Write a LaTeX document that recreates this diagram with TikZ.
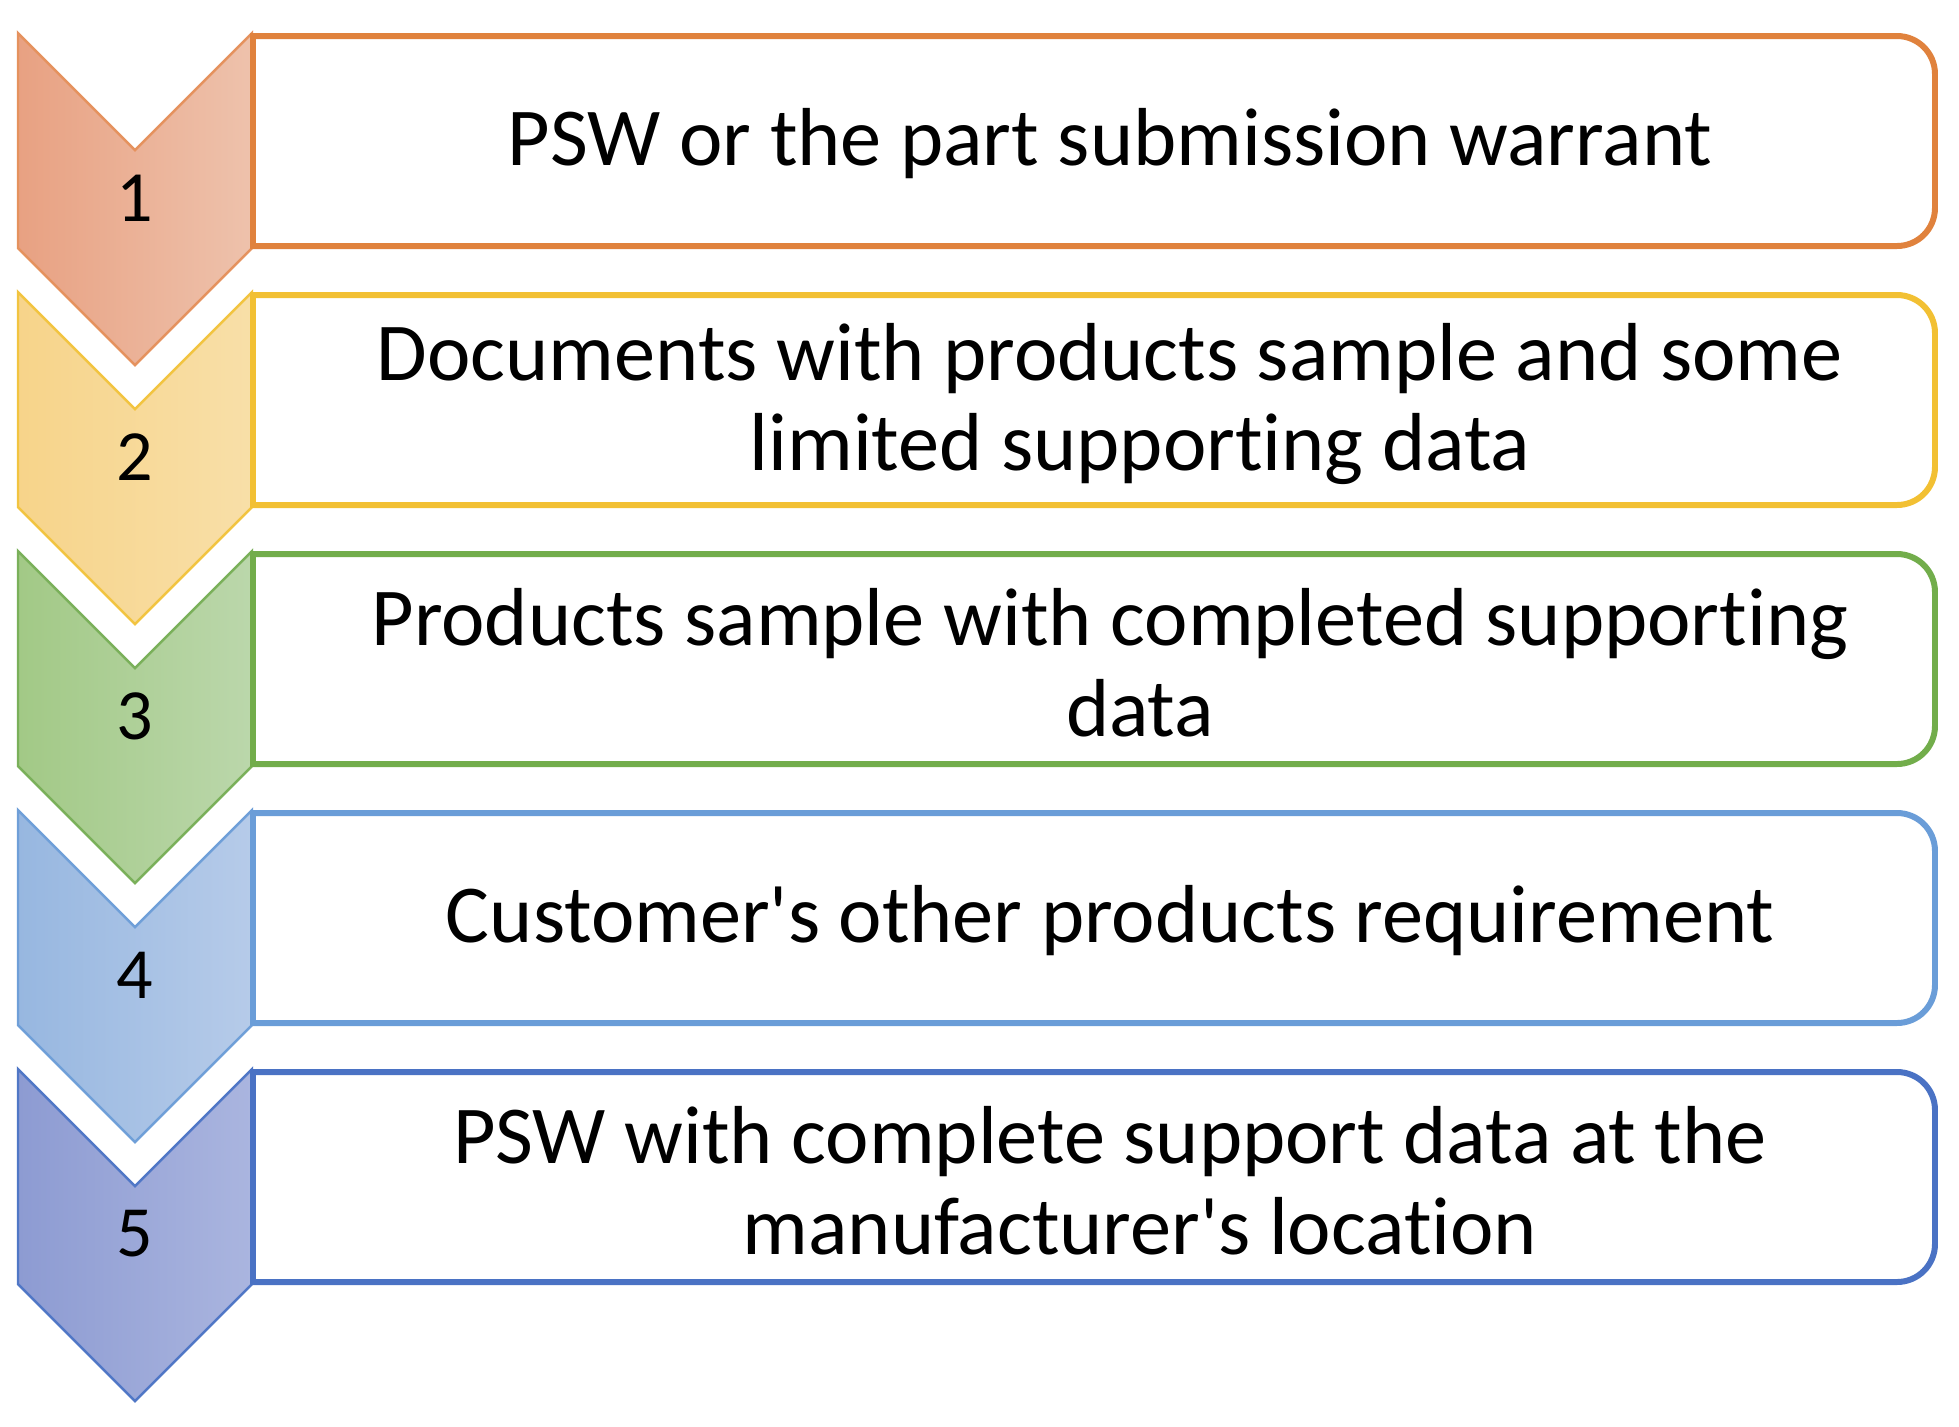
\documentclass[tikz,border=0pt]{standalone}
\usepackage{fontspec}
\setmainfont{Carlito}[Ligatures={NoCommon}]
\usepackage{xcolor}
\usetikzlibrary{positioning}

\definecolor{orgline}{HTML}{E0823D}
\definecolor{orgedge}{HTML}{E5925E}
\definecolor{orgL}{HTML}{E8A182}
\definecolor{orgR}{HTML}{EEC2AC}
\definecolor{ylwline}{HTML}{F2C033}
\definecolor{ylwedge}{HTML}{F2C440}
\definecolor{ylwL}{HTML}{F7D48A}
\definecolor{ylwR}{HTML}{F8DFA8}
\definecolor{grnline}{HTML}{72AD4B}
\definecolor{grnedge}{HTML}{7AB05A}
\definecolor{grnL}{HTML}{A2C986}
\definecolor{grnR}{HTML}{BBD7AB}
\definecolor{bluline}{HTML}{6A9DD8}
\definecolor{bluedge}{HTML}{6F9FD8}
\definecolor{bluL}{HTML}{97B7E0}
\definecolor{bluR}{HTML}{B6CBE9}
\definecolor{indline}{HTML}{4A72C4}
\definecolor{indedge}{HTML}{5077C6}
\definecolor{indL}{HTML}{8D9BD2}
\definecolor{indR}{HTML}{AAB5DF}

\newcommand{\wrapgap}{\hspace*{0.6cm}}

\begin{document}
\begin{tikzpicture}[
    x=0.01cm, y=-0.01cm,
    chev/.style = {
        draw=#1edge,
        line width=0.7pt,
        left color=#1L,
        right color=#1R
    },
    step box/.style = {
        draw=#1line,
        line width=1.7pt,
        fill=white
    },
    step num/.style = {font=\fontsize{20.5}{24}\selectfont, inner sep=0pt},
    step text/.style = {font=\fontsize{23.4}{25.8}\selectfont, align=center, inner sep=0pt}
]

\useasboundingbox (0,0) rectangle (1959,1426);

% chevrons
\draw[chev=org] (18,33) -- (135,150) -- (252,33) -- (252,248) -- (135,365) -- (18,248) -- cycle;
\draw[chev=ylw] (18,292) -- (135,409) -- (252,292) -- (252,507) -- (135,624) -- (18,507) -- cycle;
\draw[chev=grn] (18,551) -- (135,668) -- (252,551) -- (252,766) -- (135,883) -- (18,766) -- cycle;
\draw[chev=blu] (18,810) -- (135,927) -- (252,810) -- (252,1025) -- (135,1142) -- (18,1025) -- cycle;
\draw[chev=ind] (18,1069) -- (135,1186) -- (252,1069) -- (252,1284) -- (135,1401) -- (18,1284) -- cycle;

% boxes, rounded on the right only
\draw[step box=org] (253,246) -- (253,36) -- (1897,36) arc[start angle=-90, end angle=0, radius=38]
    -- (1935,208) arc[start angle=0, end angle=90, radius=38] -- cycle;
\draw[step box=ylw] (253,505) -- (253,295) -- (1897,295) arc[start angle=-90, end angle=0, radius=38]
    -- (1935,467) arc[start angle=0, end angle=90, radius=38] -- cycle;
\draw[step box=grn] (253,764) -- (253,554) -- (1897,554) arc[start angle=-90, end angle=0, radius=38]
    -- (1935,726) arc[start angle=0, end angle=90, radius=38] -- cycle;
\draw[step box=blu] (253,1023) -- (253,813) -- (1897,813) arc[start angle=-90, end angle=0, radius=38]
    -- (1935,985) arc[start angle=0, end angle=90, radius=38] -- cycle;
\draw[step box=ind] (253,1282) -- (253,1072) -- (1897,1072) arc[start angle=-90, end angle=0, radius=38]
    -- (1935,1244) arc[start angle=0, end angle=90, radius=38] -- cycle;

% numbers
\node[step num] (n1) at (135,198) {1};
\node[step num] (n2) at (135,457) {2};
\node[step num] (n3) at (135,716) {3};
\node[step num] (n4) at (135,975) {4};
\node[step num] (n5) at (135,1234) {5};

% texts
\node[step text] (t1) at (1110,144) {PSW or the part submission warrant};
\node[step text] (t2) at (1110,404) {Documents with products sample and some\\\wrapgap limited supporting data};
\node[step text] (t3) at (1110,663) {Products sample with completed supporting\\\wrapgap data};
\node[step text] (t4) at (1110,921) {Customer\textquotesingle s other products requirement};
\node[step text] (t5) at (1110,1181) {PSW with complete support data at the\\\wrapgap manufacturer\textquotesingle s location};

\end{tikzpicture}
\end{document}
